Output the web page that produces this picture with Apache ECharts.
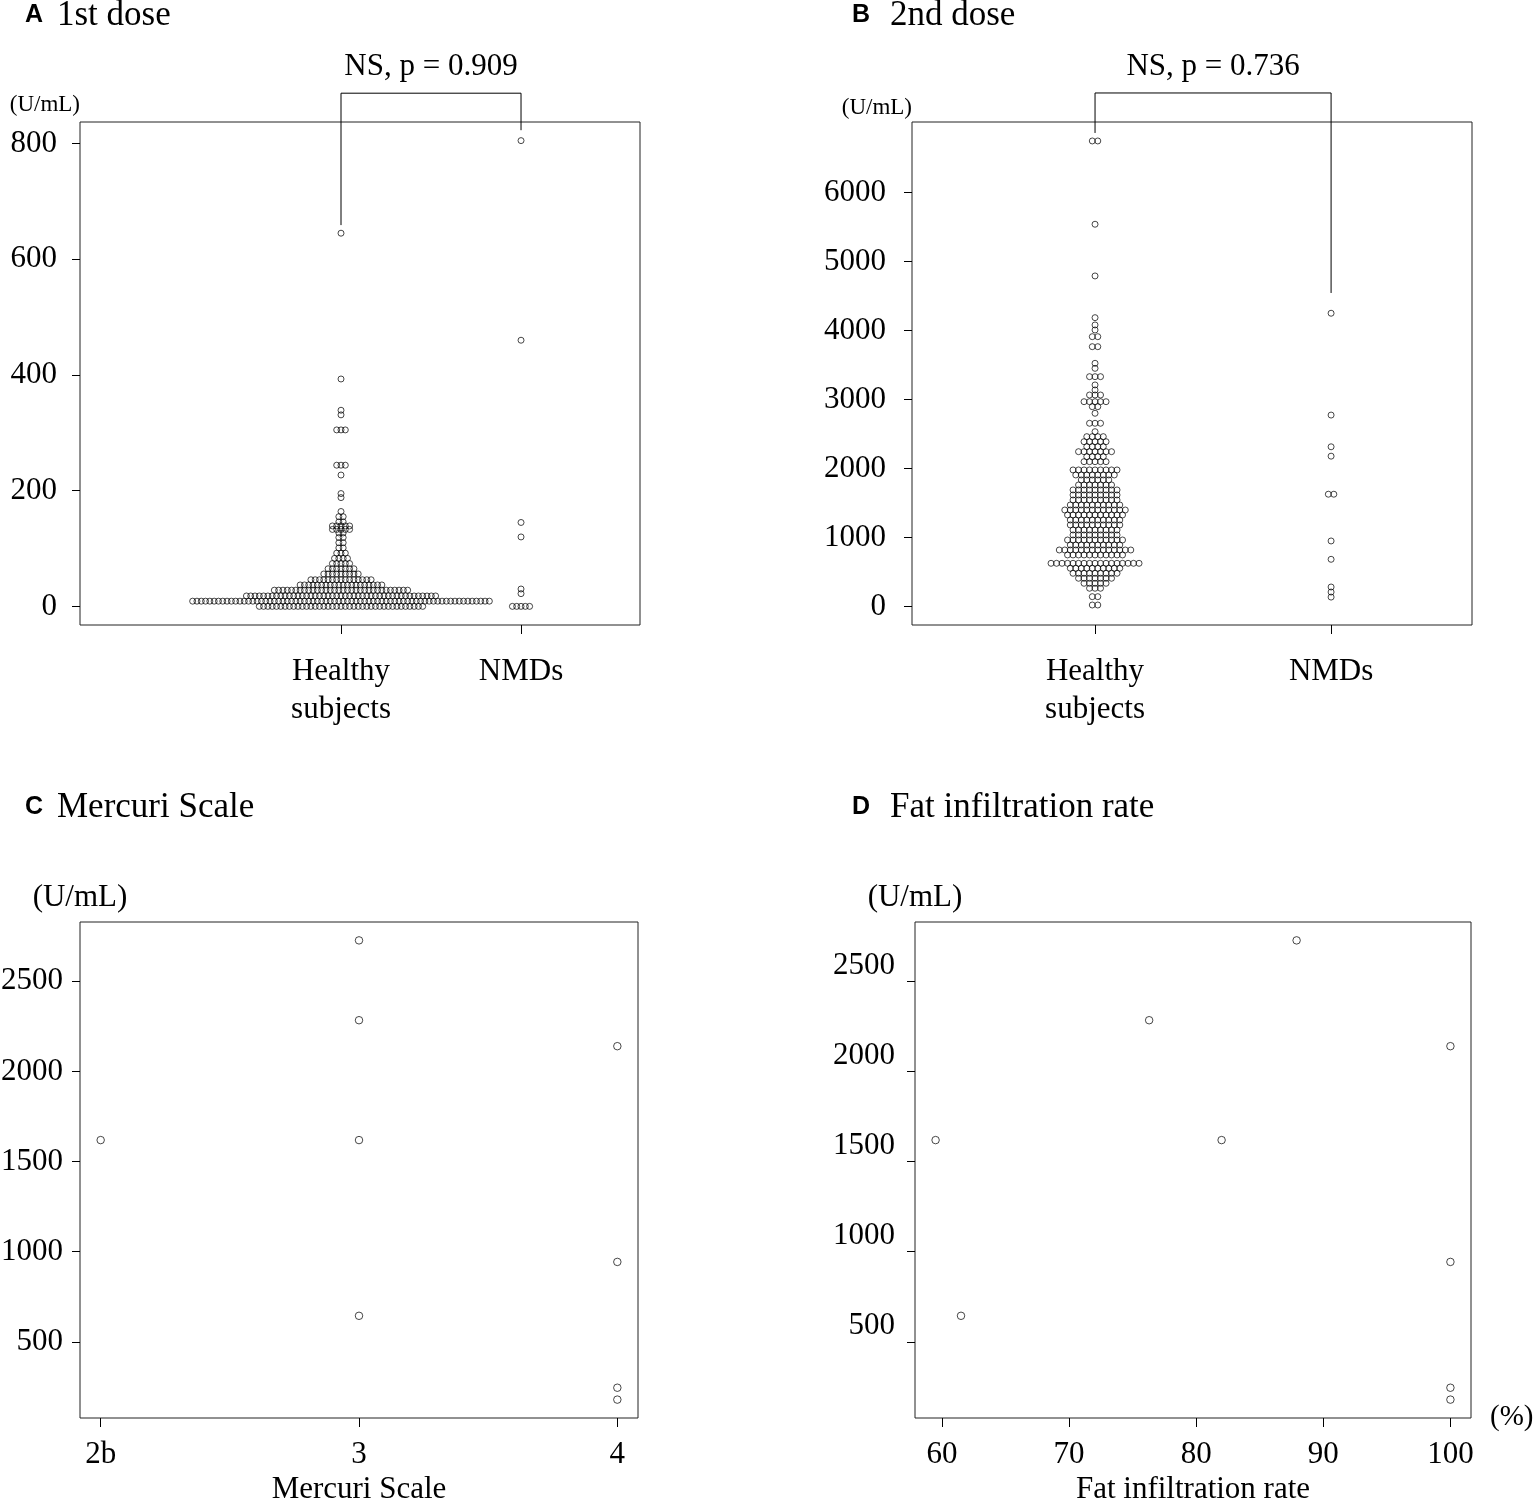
<!DOCTYPE html>
<html>
<head>
<meta charset="utf-8">
<script src="https://cdn.jsdelivr.net/npm/echarts@6/dist/echarts.min.js"></script>
<style>
  html, body { margin: 0; padding: 0; background: #fff; }
  #chart { width: 1535px; height: 1503px; }
</style>
</head>
<body>
<div id="chart"></div>
<script>
// ---- data ----
const groupLabels = ['Healthy\nsubjects', 'NMDs'];

// 1st dose, beeswarm rows: value (U/mL) and number of points in the row
const healthyDose1Values = [0, 9, 18, 28, 37, 46, 56, 65, 74, 83, 92, 101, 110, 119, 127, 133, 139, 146, 155, 164, 188, 195, 227, 244, 305, 331, 339, 393, 645];
const healthyDose1Counts = [39, 70, 45, 32, 20, 15, 9, 7, 5, 4, 3, 2, 2, 2, 2, 5, 5, 2, 2, 1, 1, 1, 1, 3, 3, 1, 1, 1, 1];
const nmdDose1Values = [0, 22, 30, 120, 145, 460, 805];
const nmdDose1Counts = [5, 1, 1, 1, 1, 1, 1];

// 2nd dose
const healthyDose2Values = [20, 141, 263, 335, 408, 480, 553, 625, 746, 818, 891, 963, 1036, 1108, 1181, 1253, 1326, 1398, 1471, 1543, 1616, 1689, 1761, 1834, 1906, 1979, 2099, 2172, 2244, 2317, 2389, 2462, 2534, 2656, 2801, 2897, 2969, 3066, 3139, 3212, 3332, 3453, 3526, 3767, 3912, 4009, 4082, 4188, 4793, 5543, 6751];
const healthyDose2Counts = [2, 2, 3, 5, 7, 9, 10, 17, 11, 14, 10, 11, 9, 9, 10, 10, 11, 12, 10, 9, 9, 9, 7, 6, 8, 9, 5, 4, 7, 4, 5, 4, 1, 3, 1, 2, 5, 3, 1, 1, 3, 1, 1, 2, 2, 1, 1, 1, 1, 1, 2];
const nmdDose2Values = [135, 208, 281, 683, 949, 1627, 2179, 2315, 2775, 4252];
const nmdDose2Counts = [1, 1, 1, 1, 1, 2, 1, 1, 1, 1];

// NMD patients: titre vs Mercuri grade and fat infiltration rate
const patientTitres = [1619, 2727, 2284, 1619, 644, 2140, 943, 245, 179];
const patientMercuri = ['2b', '3', '3', '3', '3', '4', '4', '4', '4'];
const patientFat = [59.5, 87.9, 76.3, 82.0, 61.5, 100, 100, 100, 100];

const mercuriTicks = ['2b', '3', '4'];
const dose1Ticks = [0, 200, 400, 600, 800];
const dose2Ticks = [0, 1000, 2000, 3000, 4000, 5000, 6000];
const titreTicks = [500, 1000, 1500, 2000, 2500];
const fatTicks = [60, 70, 80, 90, 100];

const brackets = [
  { grid: 0, text: 'NS, p = 0.909', feet: [659, 823], bar: 887 },
  { grid: 1, text: 'NS, p = 0.736', feet: [6867, 4546], bar: 7447 }
];

// ---- helpers ----
const SERIF = "'Liberation Serif', 'Times New Roman', serif";
const SANS = "'Liberation Sans', Arial, sans-serif";

function swarm(values, counts, x, gap) {
  const pts = [];
  values.forEach(function (v, i) {
    const n = counts[i];
    for (let k = 0; k < n; k++) {
      pts.push({ value: [x, v], symbolOffset: [(k - (n - 1) / 2) * gap, 0] });
    }
  });
  return pts;
}

function points(idx, data, size) {
  return {
    type: 'scatter',
    xAxisIndex: idx,
    yAxisIndex: idx,
    data: data,
    symbol: 'circle',
    symbolSize: size,
    itemStyle: { color: 'rgba(255,255,255,0)', borderColor: '#000', borderWidth: 0.9 },
    emphasis: { disabled: true },
    silent: true
  };
}

function tick(len, values) {
  return { show: true, length: len, customValues: values, lineStyle: { color: '#000', width: 1 } };
}

function label(size, margin, values) {
  return {
    fontFamily: SERIF, fontSize: size, color: '#000', margin: margin, customValues: values,
    formatter: function (v) { return String(v); }
  };
}

const noLine = { show: false, onZero: false };

const grid = function (left, top, width, height) {
  return {
    left: left, top: top, width: width, height: height,
    show: true, borderColor: '#222', borderWidth: 1,
    containLabel: false, outerBoundsMode: 'none'
  };
};

var dom = document.getElementById('chart');
var myChart = echarts.init(dom, null, { renderer: 'canvas' });

var letterStyle = { fontFamily: SANS, fontWeight: 'bold', fontSize: 25, color: '#000' };
var headStyle = { fontFamily: SERIF, fontWeight: 'normal', fontSize: 35, color: '#000' };

var option = {
  animation: false,
  backgroundColor: '#fff',
  title: [
    { text: 'A', left: 25, top: 3, padding: 0, textStyle: letterStyle },
    { text: '1st dose', left: 57, top: -2, padding: 0, textStyle: headStyle },
    { text: 'B', left: 852, top: 3, padding: 0, textStyle: letterStyle },
    { text: '2nd dose', left: 890, top: -2, padding: 0, textStyle: headStyle },
    { text: 'C', left: 25, top: 795, padding: 0, textStyle: letterStyle },
    { text: 'Mercuri Scale', left: 57, top: 790, padding: 0, textStyle: headStyle },
    { text: 'D', left: 852, top: 795, padding: 0, textStyle: letterStyle },
    { text: 'Fat infiltration rate', left: 890, top: 790, padding: 0, textStyle: headStyle },
    { text: '(%)', left: 1490, top: 1403, padding: 0, textStyle: { fontFamily: SERIF, fontWeight: 'normal', fontSize: 29, color: '#000' } }
  ],
  grid: [
    grid(80, 122, 560, 503),
    grid(912, 122, 560, 503),
    grid(80, 922, 558, 496),
    grid(915, 922, 556, 496)
  ],
  xAxis: [
    {
      gridIndex: 0, type: 'value', min: -0.45, max: 2.661,
      axisLine: noLine, splitLine: { show: false }, axisTick: tick(9, [1, 2]),
      axisLabel: Object.assign(label(31, 28, [1, 2]), { lineHeight: 38, formatter: function (v) { return groupLabels[Math.round(v) - 1]; } })
    },
    {
      gridIndex: 1, type: 'value', min: 0.2246, max: 2.597,
      axisLine: noLine, splitLine: { show: false }, axisTick: tick(9, [1, 2]),
      axisLabel: Object.assign(label(31, 28, [1, 2]), { lineHeight: 38, formatter: function (v) { return groupLabels[Math.round(v) - 1]; } })
    },
    {
      gridIndex: 2, type: 'value', min: 0.92, max: 3.08,
      name: 'Mercuri Scale', nameLocation: 'middle', nameGap: 56,
      nameTextStyle: { fontFamily: SERIF, fontSize: 31, color: '#000' },
      axisLine: noLine, splitLine: { show: false }, axisTick: tick(9, [1, 2, 3]),
      axisLabel: Object.assign(label(31, 21, [1, 2, 3]), { formatter: function (v) { return mercuriTicks[Math.round(v) - 1]; } })
    },
    {
      gridIndex: 3, type: 'value', min: 57.88, max: 101.62,
      name: 'Fat infiltration rate', nameLocation: 'middle', nameGap: 56,
      nameTextStyle: { fontFamily: SERIF, fontSize: 31, color: '#000' },
      axisLine: noLine, splitLine: { show: false }, axisTick: tick(9, fatTicks),
      axisLabel: label(31, 21, fatTicks)
    }
  ],
  yAxis: [
    {
      gridIndex: 0, type: 'value', min: -32.2, max: 837.2,
      name: '(U/mL)', nameLocation: 'end', nameGap: 6,
      nameTextStyle: { fontFamily: SERIF, fontSize: 23, color: '#000', align: 'right' },
      axisLine: noLine, splitLine: { show: false }, axisTick: tick(8, dose1Ticks),
      axisLabel: label(31, 23, dose1Ticks)
    },
    {
      gridIndex: 1, type: 'value', min: -270, max: 7026,
      name: '(U/mL)', nameLocation: 'end', nameGap: 3,
      nameTextStyle: { fontFamily: SERIF, fontSize: 23, color: '#000', align: 'right' },
      axisLine: noLine, splitLine: { show: false }, axisTick: tick(8, dose2Ticks),
      axisLabel: label(31, 26, dose2Ticks)
    },
    {
      gridIndex: 2, type: 'value', min: 77, max: 2829,
      name: '(U/mL)', nameLocation: 'end', nameGap: 9,
      nameTextStyle: { fontFamily: SERIF, fontSize: 31, color: '#000' },
      axisLine: noLine, splitLine: { show: false }, axisTick: tick(8, titreTicks),
      axisLabel: label(31, 17, titreTicks)
    },
    {
      gridIndex: 3, type: 'value', min: 77, max: 2829,
      name: '(U/mL)', nameLocation: 'end', nameGap: 9,
      nameTextStyle: { fontFamily: SERIF, fontSize: 31, color: '#000' },
      axisLine: noLine, splitLine: { show: false }, axisTick: tick(8, titreTicks),
      axisLabel: Object.assign(label(31, 20, titreTicks), { verticalAlign: 'bottom' })
    }
  ],
  series: [
    points(0, swarm(healthyDose1Values, healthyDose1Counts, 1, 4.3), 6),
    points(0, swarm(nmdDose1Values, nmdDose1Counts, 2, 4.3), 6),
    points(1, swarm(healthyDose2Values, healthyDose2Counts, 1, 5.5), 6),
    points(1, swarm(nmdDose2Values, nmdDose2Counts, 2, 5.5), 6),
    points(2, patientTitres.map(function (t, i) { return [mercuriTicks.indexOf(patientMercuri[i]) + 1, t]; }), 7.5),
    points(3, patientTitres.map(function (t, i) { return [patientFat[i], t]; }), 7.5)
  ]
};

myChart.setOption(option);

// significance brackets above panels A and B
var graphics = [];
brackets.forEach(function (b) {
  var left = myChart.convertToPixel({ gridIndex: b.grid }, [1, b.feet[0]]);
  var leftTop = myChart.convertToPixel({ gridIndex: b.grid }, [1, b.bar]);
  var right = myChart.convertToPixel({ gridIndex: b.grid }, [2, b.feet[1]]);
  var rightTop = myChart.convertToPixel({ gridIndex: b.grid }, [2, b.bar]);
  graphics.push({
    type: 'polyline',
    shape: { points: [left, leftTop, rightTop, right] },
    style: { stroke: '#000', fill: null, lineWidth: 1 },
    silent: true
  });
  graphics.push({
    type: 'text',
    x: (leftTop[0] + rightTop[0]) / 2,
    y: leftTop[1] - 26,
    style: { text: b.text, fontFamily: SERIF, fontSize: 31, fill: '#000', align: 'center', verticalAlign: 'middle' },
    silent: true
  });
});
myChart.setOption({ graphic: graphics });

window.addEventListener('resize', myChart.resize);
</script>
</body>
</html>
